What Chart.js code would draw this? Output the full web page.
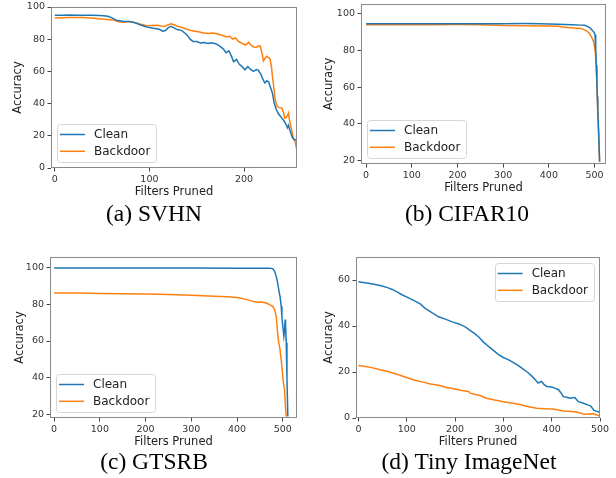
<!DOCTYPE html>
<html>
<head>
<meta charset="utf-8">
<script src="https://cdn.jsdelivr.net/npm/chart.js@4/dist/chart.umd.min.js"></script>
<style>
  body { margin: 0; background: #fff; }
  #wrap { position: relative; width: 616px; height: 478px; overflow: hidden; background: #fff; }
  #wrap canvas { position: absolute; }
  .cap { position: absolute; font-family: "Liberation Serif", "Times New Roman", serif; font-size: 23.5px; color: #000; white-space: nowrap; transform: translate(-50%, -50%); }
</style>
</head>
<body>
<div id="wrap">
  <canvas id="cA" width="308" height="200" style="left:0px;top:0px"></canvas>
  <canvas id="cB" width="308" height="200" style="left:308px;top:0px"></canvas>
  <canvas id="cC" width="308" height="225" style="left:0px;top:225px"></canvas>
  <canvas id="cD" width="308" height="225" style="left:308px;top:225px"></canvas>
  <div class="cap" style="left:154px;top:213px">(a) SVHN</div>
  <div class="cap" style="left:467px;top:213px">(b) CIFAR10</div>
  <div class="cap" style="left:154px;top:461px">(c) GTSRB</div>
  <div class="cap" style="left:469px;top:461px">(d) Tiny ImageNet</div>
</div>
<script>
// series names
var seriesNames = ['Clean', 'Backdoor'];

// (a) SVHN
var svhnCleanX = [0, 8, 16, 24, 32, 40, 47, 52, 56, 60, 65, 72, 79, 85, 90, 97, 100, 104, 108, 111, 114, 117, 120, 123, 126, 130, 134, 137, 140, 143, 146, 150, 154, 158, 162, 166, 170, 174, 178, 181, 184, 187, 189, 192, 195, 198, 201, 204, 207, 210, 213, 215, 218, 220, 222, 224, 226, 228, 230, 232, 234, 236, 238, 240, 242, 244, 246, 247, 249, 251, 253, 256];
var svhnCleanY = [94.8, 94.9, 95.1, 94.9, 94.9, 94.8, 94.7, 94.5, 94.2, 93.4, 91.7, 91.2, 91.0, 90.2, 89.0, 87.6, 87.2, 86.8, 86.5, 86.0, 84.9, 85.4, 87.2, 88.0, 87.0, 85.8, 85.5, 84.0, 82.5, 80.0, 78.6, 78.5, 77.6, 78.0, 77.4, 77.8, 77.2, 75.8, 74.0, 71.6, 72.8, 69.0, 66.0, 67.4, 64.4, 63.0, 61.0, 63.0, 61.2, 60.0, 61.2, 60.8, 58.0, 55.0, 52.8, 54.2, 53.5, 50.0, 46.5, 40.0, 36.5, 34.0, 32.5, 31.0, 29.5, 27.5, 25.0, 26.5, 22.5, 19.0, 17.5, 17.6];
var svhnBackdoorX = [0, 8, 16, 24, 30, 38, 47, 55, 62, 66, 69, 74, 79, 84, 90, 97, 102, 108, 112, 116, 120, 123, 126, 130, 134, 139, 144, 148, 152, 157, 162, 167, 171, 175, 179, 182, 185, 188, 191, 194, 197, 199, 202, 205, 208, 210, 213, 215, 217, 218, 219.5, 220.5, 222, 224, 226, 227.5, 229, 230, 231.5, 233, 235, 237, 240, 242, 243, 245, 247, 248, 249.5, 251, 252, 254, 255.7];
var svhnBackdoorY = [93.2, 93.4, 93.5, 93.5, 93.5, 93.1, 92.7, 92.3, 92.0, 91.2, 90.7, 90.6, 91.0, 90.4, 89.4, 88.4, 88.5, 88.6, 88.2, 88.0, 89.0, 89.6, 89.0, 88.0, 87.4, 86.3, 85.4, 85.0, 84.6, 83.9, 83.6, 83.9, 83.4, 82.8, 82.0, 81.4, 81.8, 80.1, 80.8, 78.7, 77.8, 77.0, 76.5, 78.0, 76.0, 75.2, 75.0, 75.6, 75.8, 73.9, 70.0, 66.5, 68.0, 69.4, 68.5, 67.7, 63.0, 57.0, 50.0, 42.4, 38.3, 37.5, 37.3, 34.0, 31.0, 31.5, 34.2, 30.0, 25.9, 22.0, 18.6, 16.5, 11.4];
var svhnXTicks = [0, 100, 200];
var svhnYTicks = [0, 20, 40, 60, 80, 100];

// (b) CIFAR10
var cifarCleanX = [0, 50, 100, 150, 200, 250, 300, 350, 380, 420, 450, 470, 478, 485, 490, 494, 497, 499, 501, 502, 503, 504, 505, 506, 507, 509, 511];
var cifarCleanY = [94.6, 94.6, 94.5, 94.5, 94.5, 94.6, 94.6, 94.7, 94.6, 94.3, 94.0, 93.8, 93.7, 93.0, 92.3, 91.3, 90.4, 89.8, 88.5, 87.5, 80.0, 72.0, 63.9, 55.0, 47.6, 35.0, 19.5];
var cifarBackdoorX = [0, 50, 100, 150, 200, 250, 300, 350, 400, 420, 430, 440, 455, 470, 476, 482, 488, 493, 496, 498, 500, 502, 503.5, 505, 507, 509, 511];
var cifarBackdoorY = [94.0, 94.0, 94.0, 94.0, 94.1, 94.0, 93.6, 93.5, 93.3, 93.2, 92.8, 92.5, 92.3, 92.0, 91.5, 90.7, 89.5, 87.5, 85.8, 84.7, 82.0, 78.4, 70.0, 62.0, 47.6, 34.0, 19.5];
var cifarXTicks = [0, 100, 200, 300, 400, 500];
var cifarYTicks = [20, 40, 60, 80, 100];

// (c) GTSRB
var gtsrbCleanX = [0, 100, 200, 300, 400, 470, 478, 482, 485.6, 488, 491, 494, 496.5, 498, 500, 502.3, 504, 505, 506, 507.5, 509, 511];
var gtsrbCleanY = [99.6, 99.6, 99.6, 99.6, 99.5, 99.5, 99.3, 97.8, 95.1, 92.5, 87.9, 84.0, 78.8, 73.0, 68.0, 62.5, 66.0, 71.6, 69.0, 59.0, 40.0, 19.0];
var gtsrbBackdoorX = [0, 50, 100, 150, 200, 250, 300, 350, 380, 400, 420, 435, 445, 453, 464, 472, 478, 482, 485.6, 488, 491, 493, 496.5, 500, 501, 503.7, 505.5, 507.5];
var gtsrbBackdoorY = [86.1, 86.0, 85.8, 85.7, 85.5, 85.2, 84.8, 84.3, 84.0, 83.6, 82.6, 81.5, 81.0, 81.2, 80.6, 79.6, 78.8, 77.0, 73.4, 66.0, 59.0, 57.0, 49.8, 40.8, 38.0, 33.5, 25.0, 19.0];
var gtsrbXTicks = [0, 100, 200, 300, 400, 500];
var gtsrbYTicks = [20, 40, 60, 80, 100];

// (d) Tiny ImageNet
var tinyCleanX = [0, 10, 21, 35, 49, 60, 70, 80, 90, 104, 118, 128, 138, 152, 166, 180, 194, 208, 221, 231, 240, 249, 259, 270, 280, 290, 300, 310, 321, 331, 342, 350, 359, 366, 372, 379, 385, 390, 400, 407, 414, 419, 424, 431, 438, 448, 455, 466, 476, 481, 487, 492, 497, 500];
var tinyCleanY = [59.2, 58.9, 58.6, 58.0, 57.4, 56.7, 55.9, 54.8, 53.6, 52.2, 50.7, 49.6, 47.7, 45.8, 44.0, 43.0, 41.8, 40.9, 39.6, 38.1, 36.8, 35.2, 33.0, 31.0, 29.3, 27.6, 26.3, 25.4, 24.1, 22.8, 21.1, 19.9, 18.2, 16.6, 15.2, 15.9, 14.4, 13.7, 13.5, 13.0, 12.3, 11.0, 9.3, 9.0, 8.6, 8.9, 7.1, 6.4, 5.6, 5.2, 3.4, 3.0, 2.7, 2.3];
var tinyBackdoorX = [0, 14, 28, 45, 63, 80, 98, 115, 132, 149, 166, 183, 200, 214, 228, 231, 240, 252, 265, 282, 300, 317, 334, 350, 369, 386, 403, 414, 424, 440, 451, 460, 466, 476, 487, 492, 497, 500];
var tinyBackdoorY = [22.8, 22.4, 21.9, 21.0, 20.1, 19.0, 17.7, 16.5, 15.7, 14.8, 14.2, 13.3, 12.6, 12.0, 11.5, 10.8, 10.3, 9.8, 8.6, 7.8, 7.1, 6.5, 5.9, 5.0, 4.2, 4.0, 3.9, 3.5, 3.0, 2.8, 2.6, 2.2, 1.6, 1.7, 1.8, 1.4, 1.1, 1.0];
var tinyXTicks = [0, 100, 200, 300, 400, 500];
var tinyYTicks = [0, 20, 40, 60];

var lineColors = ['#1f77b4', '#ff7f0e'];

function toPoints(xs, ys) {
    return xs.map(function(x, i) { return { x: x, y: ys[i] }; });
}

// axes frame on all four sides, like matplotlib spines
var framePlugin = {
    id: 'frame',
    afterDatasetsDraw: function(chart) {
        var a = chart.chartArea, ctx = chart.ctx;
        ctx.save();
        ctx.strokeStyle = '#8a8a8a';
        ctx.lineWidth = 1;
        ctx.strokeRect(Math.round(a.left) + 0.5, Math.round(a.top) + 0.5, Math.round(a.right - a.left) - 1, Math.round(a.bottom - a.top) - 1);
        ctx.restore();
    }
};

// legend box drawn inside the plot area
var boxLegend = {
    id: 'boxLegend',
    afterDraw: function(chart, args, opts) {
        var a = chart.chartArea, ctx = chart.ctx;
        var sets = chart.data.datasets;
        ctx.save();
        ctx.font = '12px "DejaVu Sans"';
        var textW = Math.max.apply(null, sets.map(function(d) { return ctx.measureText(d.label).width; }));
        var w = 37 + textW + 6, h = 38;
        var x = opts.corner === 'upperRight' ? a.right - 6 - w : a.left + 6;
        var y = opts.corner === 'upperRight' ? a.top + 6 : a.bottom - 6 - h;
        ctx.beginPath();
        ctx.roundRect(Math.round(x) + 0.5, Math.round(y) + 0.5, Math.round(w), Math.round(h), 3);
        ctx.fillStyle = 'rgba(255,255,255,0.8)';
        ctx.fill();
        ctx.strokeStyle = '#d6d6d6';
        ctx.lineWidth = 1;
        ctx.stroke();
        sets.forEach(function(d, i) {
            var cy = y + 10.5 + i * 16.8;
            ctx.beginPath();
            ctx.moveTo(x + 3, cy);
            ctx.lineTo(x + 28, cy);
            ctx.strokeStyle = d.borderColor;
            ctx.lineWidth = 1.5;
            ctx.stroke();
            ctx.fillStyle = '#222';
            ctx.textBaseline = 'middle';
            ctx.textAlign = 'left';
            ctx.fillText(d.label, x + 37, cy + 0.5);
        });
        ctx.restore();
    }
};

function makeChart(id, cfg) {
    var canvas = document.getElementById(id);
    var W = canvas.width, H = canvas.height;
    var area = cfg.area;
    var tickFont = { family: 'DejaVu Sans', size: 9.5 };
    var titleFont = { family: 'DejaVu Sans', size: 11.5 };
    // x title centre sits about 24px under the plot
    var xTitlePad = Math.max(0, H - area.bottom - 24 - 6.9);

    return new Chart(canvas, {
        type: 'line',
        data: {
            datasets: [
                { label: seriesNames[0], data: toPoints(cfg.cleanX, cfg.cleanY), borderColor: lineColors[0] },
                { label: seriesNames[1], data: toPoints(cfg.backX, cfg.backY), borderColor: lineColors[1] }
            ]
        },
        options: {
            responsive: false,
            animation: false,
            events: [],
            layout: { padding: { left: 0, top: area.top, right: W - area.right, bottom: 0 } },
            elements: {
                point: { radius: 0 },
                line: { borderWidth: 1.5, tension: 0, fill: false }
            },
            plugins: {
                legend: { display: false },
                tooltip: { enabled: false },
                boxLegend: { corner: cfg.legendCorner }
            },
            scales: {
                x: {
                    type: 'linear',
                    min: cfg.xMin,
                    max: cfg.xMax,
                    afterBuildTicks: function(s) { s.ticks = cfg.xTicks.map(function(v) { return { value: v }; }); },
                    afterFit: function(s) { s.height = H - area.bottom; s.paddingLeft = 0; s.paddingRight = 0; },
                    grid: { drawOnChartArea: false, drawTicks: true, tickLength: 3.5, tickColor: '#444' },
                    border: { display: false },
                    ticks: { font: tickFont, color: '#333', padding: 2.5, maxRotation: 0, autoSkip: false },
                    title: { display: true, text: 'Filters Pruned', font: titleFont, color: '#222', padding: { top: 0, bottom: xTitlePad } }
                },
                y: {
                    type: 'linear',
                    min: cfg.yMin,
                    max: cfg.yMax,
                    afterBuildTicks: function(s) { s.ticks = cfg.yTicks.map(function(v) { return { value: v }; }); },
                    afterFit: function(s) { s.width = area.left; s.paddingTop = 0; s.paddingBottom = 0; },
                    grid: { drawOnChartArea: false, drawTicks: true, tickLength: 3.5, tickColor: '#444' },
                    border: { display: false },
                    ticks: { font: tickFont, color: '#333', padding: 2.5, autoSkip: false },
                    title: { display: true, text: 'Accuracy', font: titleFont, color: '#222', padding: { top: cfg.yTitleX - 6.9, bottom: 0 } }
                }
            }
        },
        plugins: [framePlugin, boxLegend]
    });
}

makeChart('cA', {
    cleanX: svhnCleanX, cleanY: svhnCleanY, backX: svhnBackdoorX, backY: svhnBackdoorY,
    xTicks: svhnXTicks, yTicks: svhnYTicks, xMin: -4, xMax: 256, yMin: 0, yMax: 100,
    area: { left: 51, top: 7, right: 297, bottom: 168 }, yTitleX: 18, legendCorner: 'lowerLeft'
});
makeChart('cB', {
    cleanX: cifarCleanX, cleanY: cifarCleanY, backX: cifarBackdoorX, backY: cifarBackdoorY,
    xTicks: cifarXTicks, yTicks: cifarYTicks, xMin: -11, xMax: 525, yMin: 18.2, yMax: 105.3,
    area: { left: 53, top: 4, right: 298, bottom: 164 }, yTitleX: 21.5, legendCorner: 'lowerLeft'
});
makeChart('cC', {
    cleanX: gtsrbCleanX, cleanY: gtsrbCleanY, backX: gtsrbBackdoorX, backY: gtsrbBackdoorY,
    xTicks: gtsrbXTicks, yTicks: gtsrbYTicks, xMin: -9, xMax: 531, yMin: 18.2, yMax: 105.6,
    area: { left: 50, top: 32, right: 297, bottom: 193 }, yTitleX: 20, legendCorner: 'lowerLeft'
});
makeChart('cD', {
    cleanX: tinyCleanX, cleanY: tinyCleanY, backX: tinyBackdoorX, backY: tinyBackdoorY,
    xTicks: tinyXTicks, yTicks: tinyYTicks, xMin: -5, xMax: 500, yMin: 0, yMax: 70,
    area: { left: 48, top: 32, right: 292, bottom: 193 }, yTitleX: 21.5, legendCorner: 'upperRight'
});
</script>
</body>
</html>
